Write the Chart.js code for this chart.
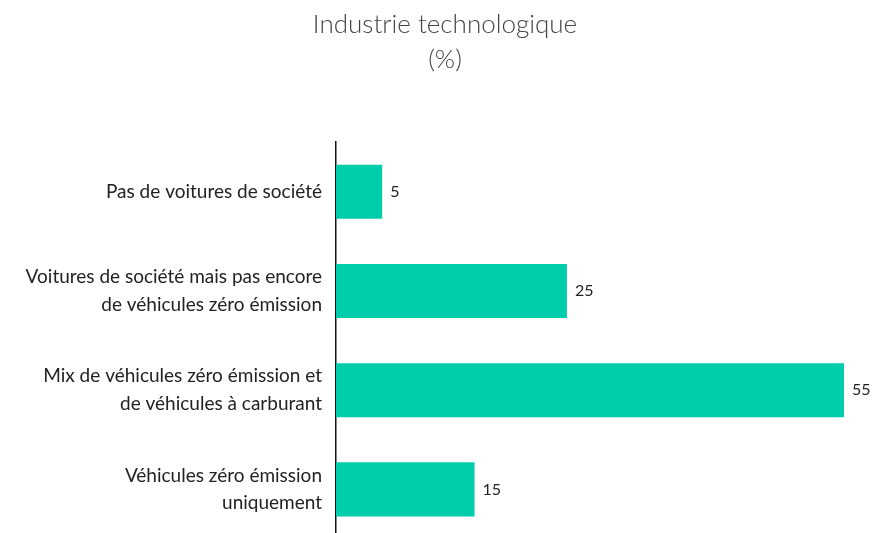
<!DOCTYPE html>
<html>
<head>
<meta charset="utf-8">
<script src="https://cdn.jsdelivr.net/npm/chart.js@4/dist/chart.umd.min.js"></script>
<style>
  html, body { margin: 0; padding: 0; background: #fff; }
  #wrap { width: 874px; height: 533px; overflow: hidden; }
  #wrap canvas { display: block; }
</style>
</head>
<body>
<div id="wrap"><canvas id="chart" width="874" height="545"></canvas></div>
<script>
// Data
const categories = [
    'Pas de voitures de société',
    ['Voitures de société mais pas encore', 'de véhicules zéro émission'],
    ['Mix de véhicules zéro émission et', 'de véhicules à carburant'],
    ['Véhicules zéro émission', 'uniquement']
];
const values = [5, 25, 55, 15];
const titleLines = ['Industrie technologique', '(%)'];
const xMax = 58.25;

const FONT = 'Lato, "Open Sans", sans-serif';

// value labels at the end of each bar
const valueLabels = {
    id: 'valueLabels',
    afterDatasetsDraw(chart) {
        const ctx = chart.ctx;
        const meta = chart.getDatasetMeta(0);
        ctx.save();
        ctx.font = '16px ' + FONT;
        ctx.fillStyle = '#222';
        ctx.textAlign = 'left';
        ctx.textBaseline = 'middle';
        meta.data.forEach((bar, i) => {
            ctx.fillText(String(values[i]), bar.x + 8, bar.y);
        });
        ctx.restore();
    }
};

new Chart(document.getElementById('chart'), {
    type: 'bar',
    data: {
        labels: categories,
        datasets: [{
            data: values,
            backgroundColor: '#00cdab',
            borderWidth: 0,
            barPercentage: 0.545,
            categoryPercentage: 1
        }]
    },
    options: {
        indexAxis: 'y',
        responsive: false,
        animation: false,
        layout: { padding: { left: 16, right: 0, top: 0, bottom: 6 } },
        plugins: {
            legend: { display: false },
            tooltip: { enabled: false },
            title: {
                display: true,
                text: titleLines,
                color: '#444',
                font: { family: FONT, size: 26, weight: '300', lineHeight: 1.35 },
                padding: { top: 7, bottom: 65 }
            }
        },
        scales: {
            x: {
                display: false,
                min: 0,
                max: xMax
            },
            y: {
                afterFit(scale) {
                    scale.width = 320;
                    scale.paddingTop = 0;
                    scale.paddingBottom = 0;
                },
                grid: { display: false, drawTicks: false },
                border: { display: true, color: '#111', width: 1.5 },
                ticks: {
                    color: '#222',
                    padding: 14,
                    font: { family: FONT, size: 19, lineHeight: 1.47 }
                }
            }
        }
    },
    plugins: [valueLabels]
});
</script>
</body>
</html>
